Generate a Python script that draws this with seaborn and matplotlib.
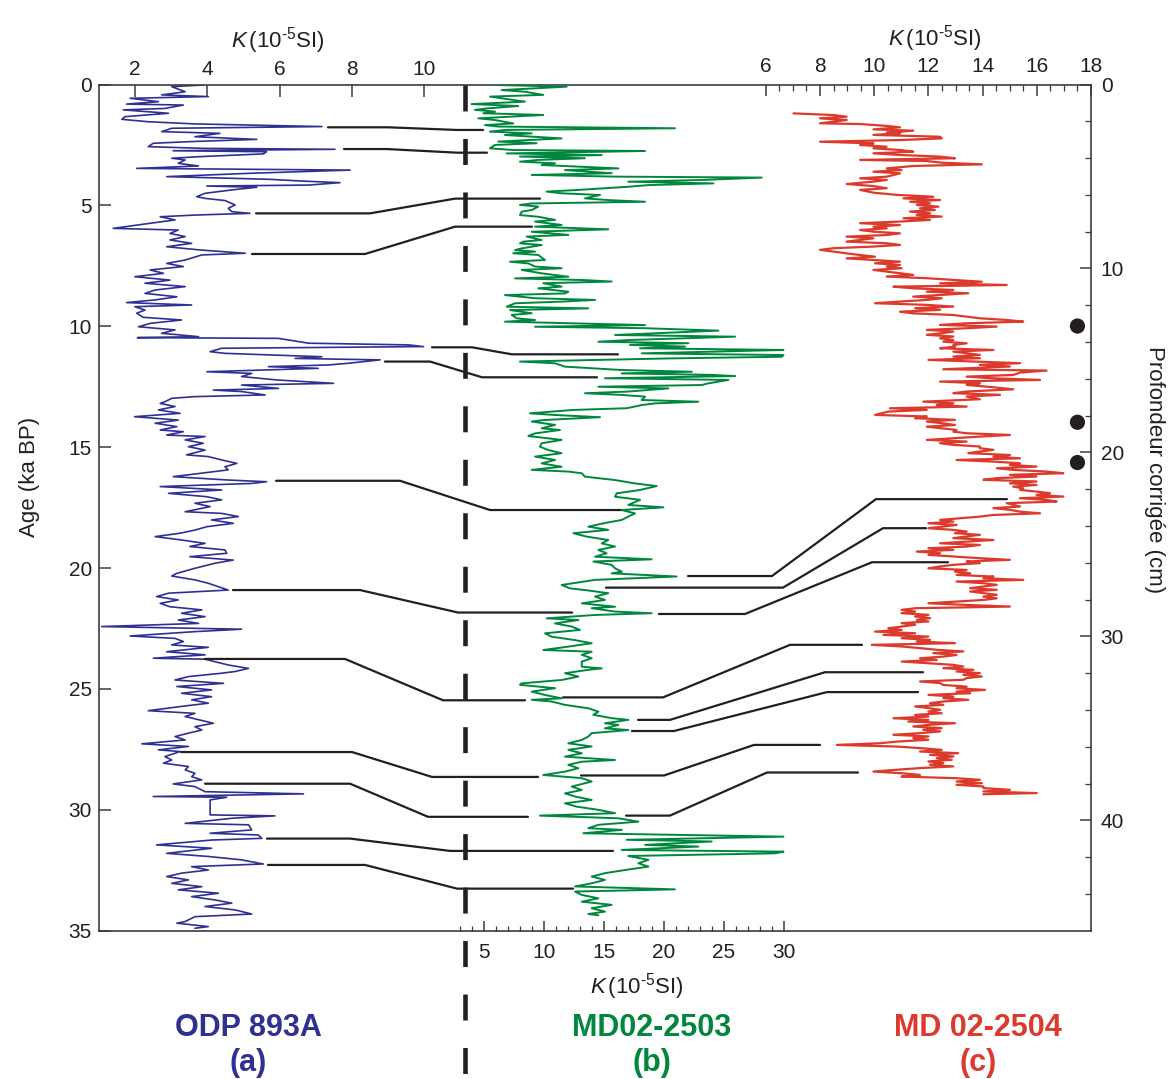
import numpy as np
import matplotlib
matplotlib.use("Agg")
import matplotlib.pyplot as plt
import matplotlib.transforms as mtransforms
from matplotlib.lines import Line2D
from matplotlib.ticker import FixedLocator
import seaborn as sns

# ---------------- data ----------------
# ODP 893A : magnetic susceptibility K (1e-5 SI) versus age (ka BP)
blue_age = [
    0.02, 0.09, 0.30, 0.43, 0.50, 0.57, 0.71, 0.81, 0.85, 0.99,
    1.05, 1.19, 1.33, 1.44, 1.54, 1.63, 1.74, 1.81, 1.95, 2.02,
    2.16, 2.27, 2.36, 2.43, 2.57, 2.64, 2.68, 2.74, 2.78, 2.87,
    2.98, 3.05, 3.12, 3.26, 3.37, 3.47, 3.54, 3.67, 3.81, 3.92,
    3.99, 4.06, 4.16, 4.20, 4.25, 4.36, 4.50, 4.64, 4.71, 4.80,
    4.98, 5.12, 5.26, 5.33, 5.40, 5.47, 5.60, 5.95, 6.02, 6.16,
    6.29, 6.43, 6.57, 6.71, 6.85, 6.98, 7.05, 7.26, 7.40, 7.53,
    7.67, 7.81, 7.95, 8.09, 8.22, 8.36, 8.50, 8.64, 8.78, 8.91,
    9.02, 9.12, 9.19, 9.33, 9.46, 9.63, 9.74, 9.88, 10.02, 10.15,
    10.29, 10.43, 10.47, 10.50, 10.70, 10.77, 10.84, 10.91, 11.05, 11.12,
    11.26, 11.33, 11.39, 11.53, 11.60, 11.67, 11.74, 11.88, 11.95, 12.08,
    12.22, 12.36, 12.43, 12.57, 12.64, 12.70, 12.84, 12.91, 12.98, 13.12,
    13.19, 13.32, 13.46, 13.60, 13.74, 13.88, 14.01, 14.15, 14.29, 14.36,
    14.50, 14.56, 14.70, 14.84, 14.98, 15.12, 15.32, 15.39, 15.53, 15.67,
    15.81, 15.94, 16.22, 16.36, 16.43, 16.50, 16.63, 16.77, 16.91, 17.05,
    17.18, 17.32, 17.46, 17.67, 17.74, 17.87, 18.01, 18.15, 18.29, 18.43,
    18.56, 18.70, 18.84, 18.98, 19.11, 19.25, 19.39, 19.53, 19.67, 19.80,
    20.01, 20.22, 20.33, 20.49, 20.63, 20.91, 21.04, 21.18, 21.32, 21.46,
    21.60, 21.73, 21.87, 22.01, 22.15, 22.29, 22.42, 22.53, 22.63, 22.81,
    22.91, 23.04, 23.18, 23.28, 23.46, 23.59, 23.73, 23.77, 24.01, 24.15,
    24.28, 24.35, 24.49, 24.63, 24.77, 24.90, 25.04, 25.18, 25.32, 25.45,
    25.59, 25.73, 25.90, 26.01, 26.14, 26.42, 26.56, 26.70, 26.83, 26.97,
    27.11, 27.27, 27.38, 27.52, 27.59, 27.80, 27.94, 28.07, 28.21, 28.35,
    28.49, 28.63, 28.76, 28.93, 29.04, 29.25, 29.34, 29.45, 29.48, 29.59,
    30.21, 30.25, 30.35, 30.56, 30.62, 30.83, 30.97, 31.04, 31.18, 31.25,
    31.45, 31.59, 31.80, 31.93, 32.07, 32.24, 32.35, 32.49, 32.62, 32.76,
    32.90, 33.04, 33.18, 33.31, 33.45, 33.59, 33.73, 33.86, 34.00, 34.14,
    34.31, 34.42, 34.62, 34.69, 34.83, 34.90,
]
blue_k = [
    3.89, 3.02, 3.39, 2.74, 4.03, 1.87, 2.65, 1.77, 3.34, 2.83,
    1.68, 2.93, 1.73, 1.64, 2.37, 3.66, 7.17, 3.02, 2.74, 4.35,
    3.66, 5.37, 3.57, 2.51, 2.37, 3.85, 7.53, 3.06, 5.64, 5.55,
    3.85, 3.02, 3.39, 3.20, 3.76, 2.05, 7.95, 5.23, 2.88, 5.69,
    6.57, 7.67, 6.80, 3.99, 5.37, 4.68, 3.94, 3.71, 3.94, 4.49,
    4.77, 4.58, 4.68, 5.18, 3.66, 2.70, 3.11, 1.40, 3.20, 2.97,
    3.39, 2.97, 3.57, 2.88, 3.85, 5.05, 3.85, 3.39, 2.88, 3.34,
    2.42, 2.79, 2.00, 2.97, 2.28, 3.39, 2.56, 2.28, 3.16, 2.56,
    1.77, 3.57, 2.00, 2.28, 2.05, 2.23, 3.29, 2.42, 2.10, 3.11,
    2.74, 3.76, 2.07, 5.97, 6.80, 9.56, 9.98, 4.40, 4.08, 4.49,
    7.17, 6.43, 8.78, 7.90, 7.35, 5.69, 7.07, 3.99, 5.23, 4.95,
    5.92, 7.49, 4.95, 5.97, 4.17, 4.95, 5.60, 3.66, 3.02, 2.83,
    2.70, 3.11, 2.65, 3.25, 1.99, 3.20, 2.56, 3.16, 2.70, 3.34,
    2.88, 3.94, 3.39, 3.89, 3.48, 3.94, 3.43, 4.03, 4.40, 4.82,
    4.49, 4.58, 3.06, 4.58, 5.64, 5.23, 2.70, 4.40, 2.93, 3.99,
    4.40, 3.66, 4.08, 3.39, 4.40, 4.86, 4.12, 4.72, 3.99, 3.66,
    3.25, 2.56, 3.29, 3.94, 3.52, 4.49, 4.54, 3.52, 4.72, 4.22,
    3.66, 3.16, 3.02, 3.66, 4.03, 4.58, 2.93, 2.60, 3.20, 2.70,
    2.97, 3.85, 3.29, 3.94, 3.20, 3.76, 1.08, 4.95, 3.66, 1.87,
    3.11, 3.34, 3.02, 4.03, 2.88, 3.94, 2.51, 3.94, 4.58, 5.14,
    4.77, 4.40, 3.48, 3.11, 4.45, 3.16, 4.12, 3.29, 4.12, 3.57,
    4.03, 3.25, 2.37, 3.66, 3.39, 4.17, 3.66, 3.85, 3.48, 3.11,
    3.39, 2.19, 3.48, 2.65, 3.25, 2.83, 3.02, 2.79, 3.48, 3.39,
    3.66, 3.57, 3.85, 3.06, 3.66, 3.94, 6.66, 2.51, 4.54, 4.08,
    4.08, 5.87, 4.68, 3.39, 5.14, 5.23, 4.08, 5.41, 5.51, 4.12,
    2.60, 4.12, 2.88, 4.03, 4.95, 5.55, 3.57, 4.03, 3.29, 2.88,
    3.48, 3.02, 3.85, 3.20, 4.31, 3.57, 4.22, 4.68, 3.94, 4.77,
    5.23, 3.66, 3.39, 3.16, 4.03, 3.66,
]

# MD02-2503 : K versus age (ka BP)
green_age = [
    0.02, 0.09, 0.23, 0.30, 0.43, 0.50, 0.64, 0.71, 0.81, 0.89,
    0.99, 1.05, 1.12, 1.19, 1.26, 1.40, 1.47, 1.61, 1.68, 1.74,
    1.81, 1.88, 1.95, 2.02, 2.09, 2.23, 2.36, 2.43, 2.50, 2.64,
    2.71, 2.75, 2.85, 2.92, 2.98, 3.05, 3.12, 3.19, 3.26, 3.33,
    3.47, 3.54, 3.67, 3.74, 3.81, 3.85, 3.95, 4.02, 4.09, 4.16,
    4.23, 4.36, 4.43, 4.50, 4.57, 4.71, 4.78, 4.85, 4.92, 4.98,
    5.05, 5.19, 5.26, 5.40, 5.47, 5.60, 5.67, 5.81, 5.88, 5.99,
    6.09, 6.22, 6.29, 6.43, 6.50, 6.57, 6.64, 6.78, 6.85, 6.91,
    6.98, 7.05, 7.26, 7.33, 7.40, 7.53, 7.60, 7.67, 7.81, 7.95,
    8.02, 8.09, 8.15, 8.22, 8.36, 8.43, 8.57, 8.64, 8.71, 8.84,
    8.91, 8.98, 9.05, 9.19, 9.26, 9.33, 9.46, 9.53, 9.67, 9.74,
    9.81, 9.95, 10.02, 10.08, 10.18, 10.36, 10.43, 10.57, 10.64, 10.70,
    10.77, 10.84, 10.91, 10.98, 11.12, 11.19, 11.26, 11.33, 11.46, 11.53,
    11.67, 11.81, 11.88, 11.95, 12.01, 12.06, 12.15, 12.22, 12.36, 12.43,
    12.50, 12.57, 12.70, 12.77, 12.84, 12.91, 13.05, 13.12, 13.19, 13.26,
    13.39, 13.46, 13.60, 13.67, 13.76, 13.88, 13.94, 14.08, 14.22, 14.29,
    14.43, 14.54, 14.70, 14.84, 14.98, 15.12, 15.25, 15.39, 15.53, 15.67,
    15.81, 15.94, 16.01, 16.08, 16.22, 16.36, 16.50, 16.61, 16.77, 16.91,
    17.05, 17.18, 17.39, 17.49, 17.60, 17.74, 17.87, 18.01, 18.15, 18.29,
    18.42, 18.56, 18.70, 18.84, 18.98, 19.11, 19.25, 19.39, 19.53, 19.64,
    19.73, 19.87, 20.01, 20.15, 20.22, 20.35, 20.49, 20.70, 20.84, 20.91,
    21.04, 21.18, 21.32, 21.46, 21.60, 21.66, 21.80, 21.87, 21.94, 22.08,
    22.15, 22.29, 22.42, 22.56, 22.70, 22.84, 22.97, 23.11, 23.25, 23.39,
    23.46, 23.59, 23.73, 23.87, 24.08, 24.15, 24.21, 24.35, 24.49, 24.63,
    24.77, 24.83, 24.97, 25.11, 25.25, 25.39, 25.45, 25.52, 25.66, 25.80,
    25.94, 26.07, 26.21, 26.28, 26.42, 26.49, 26.63, 26.70, 26.83, 26.97,
    27.11, 27.25, 27.38, 27.52, 27.66, 27.80, 27.94, 28.01, 28.14, 28.28,
    28.42, 28.56, 28.69, 28.83, 29.04, 29.18, 29.32, 29.45, 29.59, 29.73,
    29.87, 30.00, 30.14, 30.24, 30.35, 30.49, 30.62, 30.76, 30.83, 30.97,
    31.11, 31.24, 31.31, 31.45, 31.52, 31.66, 31.73, 31.80, 31.91, 32.07,
    32.21, 32.35, 32.49, 32.62, 32.76, 32.90, 33.04, 33.17, 33.29, 33.38,
    33.52, 33.66, 33.80, 33.93, 34.07, 34.21, 34.31, 34.36,
]
green_k = [
    5.89, 11.88, 6.45, 8.40, 9.93, 5.47, 7.42, 8.40, 3.94, 7.84,
    5.20, 4.22, 5.89, 4.92, 9.93, 4.50, 5.89, 7.42, 5.06, 6.17,
    20.93, 6.73, 5.47, 8.96, 6.73, 11.46, 6.17, 9.37, 5.89, 5.47,
    7.42, 18.43, 6.87, 14.81, 7.98, 13.41, 9.51, 7.98, 10.91, 9.79,
    16.20, 11.74, 15.64, 8.96, 15.92, 28.18, 23.16, 17.03, 24.14, 18.71,
    17.03, 12.86, 10.21, 11.46, 14.67, 13.41, 15.36, 18.43, 8.96, 7.98,
    9.51, 8.96, 8.12, 7.98, 9.51, 10.91, 9.24, 11.46, 9.24, 15.36,
    8.96, 12.02, 8.54, 9.79, 8.26, 7.98, 9.79, 8.12, 7.56, 9.24,
    7.42, 9.51, 10.07, 7.15, 8.68, 9.24, 11.46, 8.12, 9.79, 12.02,
    7.56, 13.41, 15.64, 9.93, 11.46, 9.51, 12.02, 11.74, 6.73, 9.24,
    14.25, 11.46, 7.56, 6.87, 13.69, 7.15, 8.96, 7.29, 7.70, 9.24,
    6.73, 18.43, 9.24, 18.43, 24.56, 15.92, 25.95, 17.03, 14.53, 22.05,
    17.17, 21.77, 18.01, 29.99, 18.15, 29.99, 29.85, 20.38, 7.98, 10.91,
    11.74, 16.48, 22.33, 16.48, 24.00, 25.95, 15.08, 25.39, 23.72, 23.16,
    14.53, 20.38, 17.03, 13.41, 16.48, 18.43, 18.15, 22.88, 19.26, 18.15,
    16.90, 12.44, 8.82, 10.91, 14.67, 9.93, 8.96, 10.91, 9.79, 11.32,
    9.24, 8.68, 11.46, 9.79, 9.65, 10.35, 11.46, 9.24, 10.91, 9.79,
    11.46, 8.96, 12.02, 13.14, 13.41, 15.92, 17.59, 19.40, 18.01, 16.06,
    15.92, 18.01, 17.03, 19.96, 16.48, 17.59, 17.03, 16.48, 14.95, 13.69,
    15.36, 12.44, 13.55, 15.36, 14.81, 15.92, 14.53, 15.22, 14.25, 18.98,
    14.11, 15.64, 15.92, 16.48, 15.64, 21.07, 14.25, 11.46, 12.16, 13.41,
    15.36, 14.25, 15.08, 13.14, 15.92, 13.97, 15.92, 18.98, 14.25, 10.21,
    12.86, 10.91, 12.30, 12.99, 10.07, 10.63, 12.44, 13.97, 12.02, 9.93,
    13.97, 13.14, 13.97, 13.14, 13.14, 14.81, 13.69, 11.74, 12.86, 11.46,
    8.12, 7.98, 10.91, 8.96, 10.07, 11.46, 8.96, 10.63, 11.74, 13.69,
    14.53, 14.11, 15.64, 17.03, 15.08, 16.20, 15.08, 17.03, 13.97, 13.69,
    13.14, 12.02, 13.97, 12.02, 13.14, 11.74, 15.92, 13.14, 12.02, 12.86,
    11.74, 9.93, 13.14, 13.97, 12.30, 13.14, 11.74, 12.58, 13.97, 11.74,
    12.72, 14.53, 15.92, 9.65, 16.20, 17.87, 14.53, 13.69, 16.48, 13.27,
    29.99, 16.90, 24.00, 18.43, 22.88, 16.48, 29.99, 29.29, 17.03, 18.71,
    17.87, 18.71, 16.76, 15.08, 13.97, 15.08, 13.97, 12.58, 20.93, 12.58,
    13.14, 14.53, 13.14, 15.64, 13.97, 15.08, 13.69, 14.53,
]

# MD 02-2504 : K versus corrected depth (cm)
red_depth = [
    1.57, 1.66, 1.75, 1.84, 1.93, 2.02, 2.11, 2.15, 2.25, 2.33,
    2.44, 2.51, 2.62, 2.65, 2.74, 2.84, 2.93, 3.02, 3.11, 3.20,
    3.29, 3.38, 3.47, 3.56, 3.65, 3.74, 3.83, 3.92, 4.01, 4.10,
    4.16, 4.25, 4.34, 4.43, 4.56, 4.65, 4.74, 4.83, 5.01, 5.10,
    5.19, 5.28, 5.41, 5.52, 5.64, 5.73, 5.88, 6.00, 6.10, 6.19,
    6.28, 6.37, 6.46, 6.55, 6.64, 6.73, 6.82, 6.91, 7.00, 7.09,
    7.18, 7.27, 7.36, 7.45, 7.54, 7.64, 7.73, 7.82, 7.91, 8.00,
    8.09, 8.18, 8.27, 8.36, 8.45, 8.54, 8.63, 8.72, 8.81, 8.90,
    8.99, 9.08, 9.18, 9.27, 9.36, 9.45, 9.54, 9.63, 9.72, 9.81,
    9.90, 9.99, 10.08, 10.17, 10.26, 10.35, 10.44, 10.53, 10.62, 10.72,
    10.81, 10.90, 10.99, 11.08, 11.17, 11.26, 11.35, 11.44, 11.53, 11.62,
    11.71, 11.80, 11.89, 11.98, 12.07, 12.16, 12.25, 12.35, 12.44, 12.53,
    12.62, 12.71, 12.80, 12.89, 12.98, 13.07, 13.16, 13.25, 13.34, 13.43,
    13.52, 13.61, 13.70, 13.80, 13.89, 13.98, 14.07, 14.16, 14.25, 14.34,
    14.43, 14.52, 14.70, 14.79, 14.88, 14.97, 15.06, 15.15, 15.24, 15.33,
    15.48, 15.55, 15.66, 15.79, 15.88, 15.97, 16.06, 16.15, 16.24, 16.33,
    16.46, 16.57, 16.69, 16.78, 16.87, 16.96, 17.11, 17.24, 17.33, 17.42,
    17.51, 17.60, 17.69, 17.78, 17.96, 18.05, 18.14, 18.23, 18.32, 18.41,
    18.51, 18.60, 18.69, 18.78, 18.87, 18.96, 19.05, 19.14, 19.23, 19.32,
    19.41, 19.50, 19.59, 19.68, 19.77, 19.86, 19.95, 20.04, 20.14, 20.23,
    20.32, 20.41, 20.50, 20.59, 20.68, 20.77, 20.86, 20.95, 21.04, 21.13,
    21.22, 21.31, 21.40, 21.49, 21.58, 21.68, 21.77, 21.86, 21.95, 22.04,
    22.13, 22.22, 22.31, 22.40, 22.49, 22.58, 22.67, 22.76, 22.94, 23.03,
    23.12, 23.22, 23.31, 23.40, 23.49, 23.58, 23.67, 23.76, 23.85, 23.94,
    24.03, 24.12, 24.21, 24.30, 24.39, 24.48, 24.57, 24.66, 24.76, 24.85,
    24.94, 25.03, 25.12, 25.21, 25.30, 25.39, 25.48, 25.57, 25.66, 25.75,
    25.84, 25.93, 26.02, 26.11, 26.20, 26.30, 26.39, 26.48, 26.57, 26.66,
    26.75, 26.84, 26.93, 27.02, 27.11, 27.20, 27.29, 27.38, 27.47, 27.56,
    27.65, 27.74, 27.84, 27.93, 28.02, 28.20, 28.29, 28.38, 28.47, 28.56,
    28.65, 28.74, 28.83, 28.92, 29.01, 29.10, 29.19, 29.28, 29.37, 29.56,
    29.65, 29.74, 29.83, 29.92, 30.01, 30.10, 30.19, 30.28, 30.37, 30.46,
    30.55, 30.64, 30.73, 30.82, 30.91, 31.01, 31.10, 31.19, 31.28, 31.37,
    31.46, 31.55, 31.64, 31.73, 31.82, 31.91, 32.00, 32.09, 32.18, 32.27,
    32.36, 32.45, 32.54, 32.64, 32.73, 32.82, 32.91, 33.00, 33.09, 33.18,
    33.27, 33.36, 33.45, 33.54, 33.63, 33.72, 33.81, 33.90, 33.99, 34.09,
    34.18, 34.27, 34.36, 34.45, 34.54, 34.63, 34.72, 34.81, 34.90, 34.99,
    35.08, 35.17, 35.26, 35.35, 35.44, 35.53, 35.62, 35.72, 35.81, 35.90,
    35.99, 36.08, 36.17, 36.26, 36.35, 36.44, 36.53, 36.62, 36.71, 36.80,
    36.89, 36.98, 37.07, 37.16, 37.25, 37.35, 37.44, 37.53, 37.62, 37.71,
    37.80, 37.89, 37.98, 38.07, 38.16, 38.25, 38.34, 38.43, 38.52, 38.58,
]
red_k = [
    7.02, 8.49, 8.98, 8.00, 8.98, 8.49, 8.00, 9.48, 10.46, 10.95,
    9.97, 11.44, 10.46, 10.95, 9.97, 12.43, 12.49, 10.95, 8.00, 9.97,
    9.48, 10.46, 9.97, 10.95, 11.44, 9.97, 10.95, 12.43, 12.98, 9.48,
    11.94, 12.49, 13.97, 11.44, 10.46, 11.01, 9.97, 10.95, 10.46, 9.48,
    10.46, 9.97, 8.98, 9.97, 10.46, 9.48, 9.97, 10.83, 12.18, 11.08,
    12.43, 11.32, 12.06, 11.57, 12.37, 11.69, 12.24, 11.32, 12.06, 11.57,
    12.49, 11.08, 12.06, 10.95, 9.48, 10.95, 9.97, 10.46, 9.48, 9.97,
    10.95, 10.46, 8.98, 9.97, 9.48, 8.98, 10.46, 10.95, 9.97, 8.49,
    8.00, 8.49, 8.98, 9.48, 10.03, 8.98, 9.97, 10.95, 10.03, 10.95,
    10.46, 11.01, 9.97, 10.46, 10.95, 11.44, 10.46, 11.94, 12.92, 13.97,
    12.43, 14.89, 10.71, 11.44, 12.92, 11.94, 13.47, 12.43, 11.44, 12.49,
    11.94, 10.95, 10.03, 11.94, 12.92, 11.51, 12.43, 10.95, 11.44, 12.92,
    13.41, 13.90, 14.89, 15.50, 13.41, 12.43, 14.52, 13.41, 11.94, 12.92,
    12.49, 11.94, 12.92, 12.43, 12.92, 12.55, 13.41, 12.92, 12.98, 12.43,
    14.40, 12.92, 13.90, 12.92, 13.90, 12.00, 13.66, 15.38, 13.90, 15.01,
    12.55, 16.36, 15.38, 15.13, 13.41, 14.40, 16.12, 12.43, 13.90, 13.41,
    14.40, 15.13, 13.41, 12.92, 14.64, 13.41, 13.90, 11.81, 12.92, 12.31,
    13.41, 10.58, 11.94, 10.52, 10.03, 11.94, 11.51, 12.98, 11.94, 12.49,
    12.98, 11.94, 12.49, 13.04, 12.92, 13.41, 15.01, 13.90, 12.92, 11.94,
    13.41, 12.43, 12.92, 13.90, 13.90, 14.40, 13.90, 13.47, 15.01, 14.40,
    15.38, 13.04, 14.40, 15.38, 15.01, 15.99, 14.52, 15.13, 16.36, 16.98,
    15.01, 15.99, 14.52, 14.03, 15.99, 15.01, 15.99, 15.13, 15.50, 15.38,
    15.99, 16.49, 15.99, 16.98, 15.38, 16.36, 16.73, 14.89, 15.38, 14.40,
    15.01, 15.38, 16.12, 14.40, 13.90, 13.17, 12.43, 12.92, 12.00, 13.04,
    12.55, 12.00, 12.92, 13.41, 12.98, 13.90, 13.41, 12.92, 14.40, 13.41,
    12.43, 13.90, 13.41, 12.00, 12.92, 11.57, 12.43, 12.00, 12.92, 13.90,
    15.01, 13.41, 13.90, 12.92, 12.43, 12.00, 13.41, 12.98, 13.54, 13.04,
    14.40, 14.03, 15.50, 13.04, 14.03, 14.52, 14.03, 13.54, 14.52, 13.54,
    14.03, 14.52, 14.03, 14.52, 14.03, 12.00, 13.41, 15.01, 11.51, 11.01,
    11.51, 11.01, 12.00, 11.51, 12.06, 11.57, 12.00, 11.01, 11.51, 10.52,
    11.01, 10.03, 11.51, 10.34, 12.00, 11.01, 12.06, 11.57, 12.98, 9.91,
    11.01, 11.69, 12.31, 13.29, 12.18, 13.04, 12.55, 11.69, 12.31, 11.01,
    12.00, 12.92, 13.29, 12.55, 13.66, 13.04, 13.90, 13.29, 13.97, 13.41,
    13.29, 11.69, 12.43, 12.55, 13.41, 13.04, 14.09, 13.04, 13.54, 12.00,
    12.92, 12.55, 13.47, 12.55, 12.06, 12.55, 11.51, 12.00, 12.43, 12.00,
    12.49, 11.51, 12.00, 10.71, 12.00, 11.26, 12.98, 12.00, 11.44, 12.49,
    11.81, 12.43, 11.69, 10.71, 12.00, 11.44, 12.00, 10.83, 10.21, 8.62,
    10.83, 11.75, 12.49, 11.69, 13.10, 12.06, 12.92, 12.31, 12.86, 12.00,
    12.55, 12.06, 12.92, 11.69, 10.83, 9.97, 11.01, 11.69, 11.01, 13.04,
    13.90, 13.04, 13.97, 13.04, 14.03, 14.03, 15.01, 14.03, 16.00, 14.03,
]

# dated levels in MD 02-2504 (black dots, depth in cm)
dot_depth = [13.13, 18.36, 20.55]

# tie points ODP 893A (age) -> MD02-2503 (age)
tie_ab_left = [1.77, 2.67, 5.33, 7.01, 10.87, 11.46, 16.39, 20.91, 23.76, 27.61, 28.92, 31.19, 32.28]
tie_ab_right = [1.88, 2.82, 4.72, 5.88, 11.16, 12.11, 17.60, 21.84, 25.47, 28.64, 30.29, 31.70, 33.26]
# tie points MD02-2503 (age) -> MD 02-2504 (depth, cm)
tie_bc_left = [20.33, 20.81, 21.90, 25.35, 26.28, 26.74, 28.58, 30.24]
tie_bc_right = [22.54, 24.12, 25.97, 30.46, 31.95, 33.03, 35.90, 37.40]

age_ticks = [0, 5, 10, 15, 20, 25, 30, 35]
depth_ticks = [0, 10, 20, 30, 40]
blue_ticks = [2, 4, 6, 8, 10]
green_ticks = [5, 10, 15, 20, 25, 30]
red_ticks = [6, 8, 10, 12, 14, 16, 18]

core_names = ["ODP 893A", "MD02-2503", "MD 02-2504"]
panel_tags = ["(a)", "(b)", "(c)"]

# ---------------- layout / style ----------------
BLUE, GREEN, RED, INK = "#2e3192", "#00873e", "#dc3a2c", "#231f20"
SPINE = "#3c3c3c"
AGE_MAX, DEPTH_MAX = 35, 46
DOT_K = 17.5

# x-positions (axes fraction) of each tie line: start, bend, bend, end
TIE_AB_X = [
    (0.2311, 0.2915, 0.3611, 0.3873), (0.2472, 0.2905, 0.3611, 0.3913),
    (0.1585, 0.2734, 0.3591, 0.4447), (0.1545, 0.2684, 0.3591, 0.4367),
    (0.3359, 0.3762, 0.4165, 0.5233), (0.2885, 0.3339, 0.3863, 0.5022),
    (0.1787, 0.3036, 0.3943, 0.5284), (0.1353, 0.2633, 0.3621, 0.4770),
    (0.1071, 0.2482, 0.3470, 0.4296), (0.0829, 0.2553, 0.3359, 0.4427),
    (0.1071, 0.2533, 0.3319, 0.4326), (0.1696, 0.2533, 0.3540, 0.5183),
    (0.1706, 0.2684, 0.3611, 0.4780),
]
TIE_BC_X = [
    (0.5939, 0.6785, 0.7833, 0.9153), (0.5112, 0.6896, 0.7904, 0.8337),
    (0.5646, 0.6513, 0.7793, 0.8559), (0.4679, 0.5687, 0.6967, 0.7692),
    (0.5435, 0.5757, 0.7319, 0.8307), (0.5374, 0.5798, 0.7339, 0.8257),
    (0.4860, 0.5697, 0.6604, 0.7269), (0.5314, 0.5757, 0.6735, 0.7652),
]

sns.set_style("ticks")
plt.rcParams["font.family"] = ["Liberation Sans", "DejaVu Sans"]
plt.rcParams["mathtext.fontset"] = "custom"
plt.rcParams["mathtext.rm"] = "Liberation Sans"
plt.rcParams["mathtext.it"] = "Liberation Sans:italic"
plt.rcParams["lines.scale_dashes"] = False

FW, FH = 1173, 1079
fig = plt.figure(figsize=(FW / 100, FH / 100), dpi=100)
x0, x1, y0, y1 = 98.7, 1091.0, 84.5, 930.7
rect = [x0 / FW, 1 - y1 / FH, (x1 - x0) / FW, (y1 - y0) / FH]
ax = fig.add_axes(rect)
ax_g = ax.twiny()
ax_r = fig.add_axes(rect, frameon=False)

sns.lineplot(x=blue_k, y=blue_age, sort=False, estimator=None, ax=ax, color=BLUE, lw=1.2)
sns.lineplot(x=green_k, y=green_age, sort=False, estimator=None, ax=ax_g, color=GREEN, lw=1.4)
sns.lineplot(x=red_k, y=red_depth, sort=False, estimator=None, ax=ax_r, color=RED, lw=1.6)
sns.scatterplot(x=[DOT_K] * len(dot_depth), y=dot_depth, ax=ax_r, color=INK, s=120,
                edgecolor="none", linewidth=0, zorder=5)

ax.set_xlim(1.0, 28.43)
ax.set_ylim(AGE_MAX, 0)
ax_g.set_xlim(-27.21, 55.68)
ax_r.set_xlim(-18.62, 18.0)
ax_r.set_ylim(DEPTH_MAX, 0)
for a in (ax, ax_g, ax_r):
    a.set_xlabel("")
    a.set_ylabel("")

# main axes: blue scale on top, age on left
ax.xaxis.set_ticks_position("top")
ax.set_xticks(blue_ticks)
ax.set_yticks(age_ticks)
ax.tick_params(axis="x", which="major", direction="in", length=8.5, width=1.1, pad=4,
               labelsize=15, color=SPINE, labelcolor=INK, top=True, bottom=False,
               labeltop=True, labelbottom=False)
ax.tick_params(axis="y", which="major", direction="in", length=8.5, width=1.1, pad=5,
               labelsize=15, color=SPINE, labelcolor=INK, left=True, right=False)
for s in ax.spines.values():
    s.set_color(SPINE)
    s.set_linewidth(1.2)

# green scale at bottom
ax_g.xaxis.set_ticks_position("bottom")
ax_g.set_xticks(green_ticks)
ax_g.xaxis.set_minor_locator(FixedLocator([v for v in range(3, 31) if v % 5]))
ax_g.tick_params(axis="x", which="major", direction="in", length=7.5, width=1.1, pad=9,
                 labelsize=15, color=SPINE, labelcolor=INK, top=False, bottom=True,
                 labeltop=False, labelbottom=True)
ax_g.tick_params(axis="x", which="minor", direction="in", length=3.8, width=0.9,
                 color=SPINE, top=False, bottom=True)
for s in ax_g.spines.values():
    s.set_visible(False)

# red scale on top right, depth on right
ax_r.xaxis.set_ticks_position("top")
ax_r.set_xticks(red_ticks)
ax_r.xaxis.set_minor_locator(FixedLocator([v / 2 for v in range(13, 36) if v % 4]))
ax_r.tick_params(axis="x", which="major", direction="in", length=8, width=1.1, pad=6,
                 labelsize=15, color=SPINE, labelcolor=INK, top=True, bottom=False,
                 labeltop=True, labelbottom=False)
ax_r.tick_params(axis="x", which="minor", direction="in", length=4, width=0.9,
                 color=SPINE, top=True, bottom=False)
ax_r.yaxis.set_ticks_position("right")
ax_r.set_yticks(depth_ticks)
ax_r.yaxis.set_minor_locator(FixedLocator([v for v in range(2, 46, 2) if v % 10]))
ax_r.tick_params(axis="y", which="major", direction="in", length=8, width=1.1, pad=7,
                 labelsize=15, color=SPINE, labelcolor=INK, right=True, left=False,
                 labelright=True, labelleft=False)
ax_r.tick_params(axis="y", which="minor", direction="in", length=4.3, width=0.9,
                 color=SPINE, right=True, left=False)

# tie lines
trans = mtransforms.blended_transform_factory(ax.transAxes, ax.transData)
for a1, a2, xs in zip(tie_ab_left, tie_ab_right, TIE_AB_X):
    ax.plot(xs, [a1, a1, a2, a2], transform=trans, color=INK, lw=1.6,
            clip_on=False, zorder=3)
for a1, d2, xs in zip(tie_bc_left, tie_bc_right, TIE_BC_X):
    a2 = d2 * AGE_MAX / DEPTH_MAX
    ax.plot(xs, [a1, a1, a2, a2], transform=trans, color=INK, lw=1.6,
            clip_on=False, zorder=3)

# dashed separator
fig.add_artist(Line2D([465 / FW, 465 / FW], [1 - 85 / FH, 0], transform=fig.transFigure,
                      color=INK, lw=3.3, dashes=(18.7, 19.8)))

# labels
klabel = r"$K\,$(10$^{\text{-}5}$SI)"
fig.text(278 / FW, 1 - 47 / FH, klabel, ha="center", va="baseline", fontsize=16, color=INK)
fig.text(935 / FW, 1 - 46 / FH, klabel, ha="center", va="baseline", fontsize=16, color=INK)
fig.text(637 / FW, 1 - 994 / FH, klabel, ha="center", va="baseline", fontsize=16, color=INK)
fig.text(29 / FW, 1 - 477 / FH, "Age (ka BP)", rotation=90, ha="center", va="center",
         fontsize=16, color=INK)
fig.text(1155 / FW, 1 - 470 / FH, "Profondeur corrigée (cm)", rotation=270, ha="center",
         va="center", fontsize=16, color=INK)

for name, tag, cx, col in zip(core_names, panel_tags, [248, 652, 978], [BLUE, GREEN, RED]):
    fig.text(cx / FW, 1 - 1036 / FH, name, ha="center", va="baseline", fontsize=22,
             fontweight="bold", color=col)
    fig.text(cx / FW, 1 - 1071 / FH, tag, ha="center", va="baseline", fontsize=22,
             fontweight="bold", color=col)

fig.savefig("out.png", dpi=100)
